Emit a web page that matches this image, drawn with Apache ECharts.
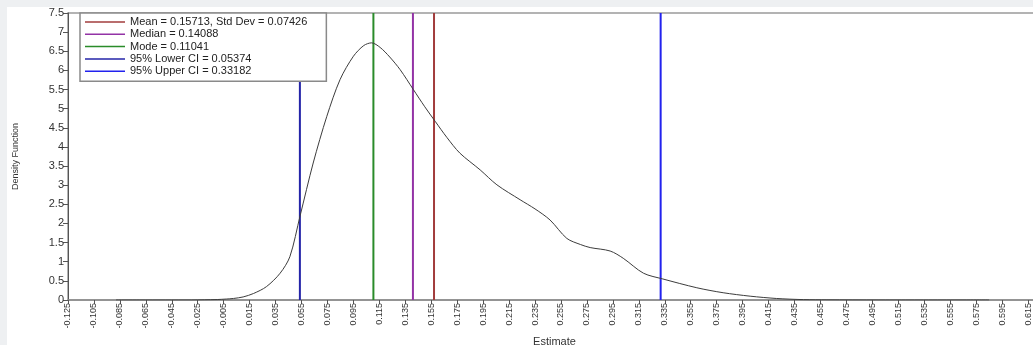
<!DOCTYPE html>
<html>
<head>
<meta charset="utf-8">
<script src="https://cdn.jsdelivr.net/npm/echarts@6/dist/echarts.min.js"></script>
<style>
html,body{margin:0;padding:0;background:#eef0f2;}
#wrap{position:absolute;left:0;top:0;width:1033px;height:345px;background:#eef0f2;overflow:hidden;}
#c{position:absolute;left:7px;top:7px;width:1026px;height:338px;background:#ffffff;}
</style>
</head>
<body>
<div id="wrap"><div id="c"></div></div>
<script>
// Density curve (estimate, density)
const densityX = [-0.088,-0.07,-0.05,-0.03,-0.02,-0.01,-0.003,0.0025,0.01,0.018,0.028,0.0385,0.046,0.0539,0.064,0.0745,0.0847,0.095,0.103,0.109,0.1156,0.123,0.131,0.1412,0.15,0.158,0.167,0.177,0.1927,0.2056,0.2235,0.235,0.2466,0.2595,0.270,0.2775,0.2929,0.303,0.3186,0.3335,0.3597,0.380,0.4008,0.421,0.442,0.46,0.5,0.585];
const densityY = [0,0,0,0,0.005,0.012,0.025,0.04,0.08,0.17,0.35,0.70,1.13,2.2,3.58,4.80,5.76,6.37,6.65,6.72,6.6,6.35,6.02,5.5,5.05,4.67,4.25,3.84,3.40,3.01,2.62,2.38,2.09,1.61,1.45,1.37,1.28,1.09,0.70,0.55,0.32,0.19,0.10,0.04,0.01,0.004,0,0];

// Reference lines
const refNames = ['Mean = 0.15713, Std Dev = 0.07426','Median = 0.14088','Mode = 0.11041','95% Lower CI = 0.05374','95% Upper CI = 0.33182'];
const refValues = [0.15713, 0.14088, 0.11041, 0.05374, 0.33182];
const refColors = ['#a23c3c', '#9333a6', '#2a8c2a', '#2424a8', '#2222ee'];

// Tick values
const xTicks = [-0.125,-0.105,-0.085,-0.065,-0.045,-0.025,-0.005,0.015,0.035,0.055,0.075,0.095,0.115,0.135,0.155,0.175,0.195,0.215,0.235,0.255,0.275,0.295,0.315,0.335,0.355,0.375,0.395,0.415,0.435,0.455,0.475,0.495,0.515,0.535,0.555,0.575,0.595,0.615];
const yMin = 0, yMax = 7.5, yStep = 0.5;

const chart = echarts.init(document.getElementById('c'), null, {renderer:'canvas'});
const series = [{
  name: 'Density',
  type: 'line',
  data: densityX.map((x,i)=>[x, densityY[i]]),
  smooth: 0.3,
  symbol: 'none',
  lineStyle: {color:'#3c3c3c', width:1},
  z: 3
}];
refNames.forEach((n,i)=>{
  series.push({
    name: n,
    type: 'line',
    data: [[refValues[i], yMin],[refValues[i], yMax]],
    symbol: 'none',
    lineStyle: {color: refColors[i], width: 2},
    itemStyle: {color: refColors[i]},
    z: 2
  });
});

chart.setOption({
  animation: false,
  backgroundColor: '#ffffff',
  grid: {left: 61, top: 6, right: -8, bottom: 45, outerBoundsMode: 'none', containLabel: false,
         show: true, borderColor: '#9a9a9a', borderWidth: 1.5, backgroundColor: '#ffffff'},
  legend: {
    data: refNames.map(n => ({name: n, icon: 'rect'})),
    orient: 'vertical',
    left: 73, top: 6,
    padding: [3, 19, 4, 5],
    itemWidth: 40, itemHeight: 1.5, itemGap: 0.3,
    backgroundColor: '#ffffff',
    borderColor: '#8a8a8a', borderWidth: 1.5,
    textStyle: {fontFamily: 'Liberation Sans, Arial, sans-serif', fontSize: 11, color: '#222', lineHeight: 12}
  },
  xAxis: {
    type: 'value', min: -0.125, max: 0.625,
    name: 'Estimate', nameLocation: 'middle', nameGap: 33,
    nameTextStyle: {fontFamily: 'Liberation Sans, Arial, sans-serif', fontSize: 11, color: '#333'},
    axisLine: {onZero: false, lineStyle: {color: '#8a8a8a', width: 1.5}},
    axisTick: {show: true, length: 4, customValues: xTicks, lineStyle: {color: '#555'}},
    axisLabel: {
      customValues: xTicks, rotate: 90, margin: 3,
      fontFamily: 'Liberation Sans, Arial, sans-serif', fontSize: 9, color: '#333',
      formatter: v => v.toFixed(3)
    },
    splitLine: {show: false}
  },
  yAxis: {
    type: 'value', min: yMin, max: yMax, interval: yStep,
    name: 'Density Function', nameLocation: 'middle', nameGap: 48, nameRotate: 90,
    nameTextStyle: {fontFamily: 'Liberation Sans, Arial, sans-serif', fontSize: 9, color: '#333'},
    axisLine: {show: true, onZero: false, lineStyle: {color: '#555', width: 1}},
    axisTick: {show: true, length: 5, lineStyle: {color: '#555'}},
    axisLabel: {margin: 4, fontFamily: 'Liberation Sans, Arial, sans-serif', fontSize: 11, color: '#333'},
    splitLine: {show: false}
  },
  series: series
});
</script>
</body>
</html>
